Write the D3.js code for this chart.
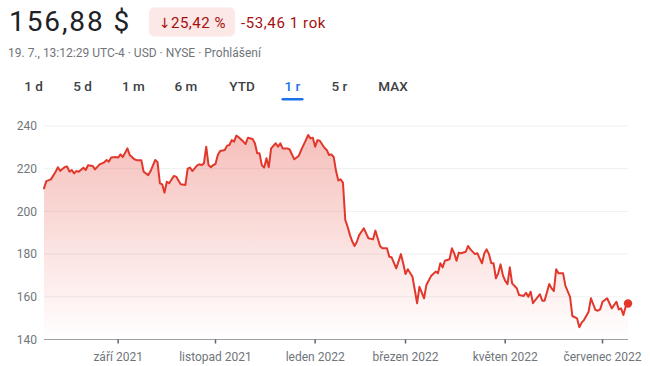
<!DOCTYPE html>
<html>
<head>
<meta charset="utf-8">
<script src="https://cdn.jsdelivr.net/npm/d3@7"></script>
<style>
  html, body { margin: 0; padding: 0; background: #fff; }
  svg { display: block; font-family: Roboto, Arial, sans-serif; }
</style>
</head>
<body>
<svg id="chart" width="650" height="366"></svg>
<script>
// Trading-session number (0 = first session of the year window) and closing price
const sessions = [0,1,3,5,6,7,9,10,11,12,13,14,15,17,18,19,21,22,24,26,27,28,29,31,32,33,34,36,37,39,40,42,43,45,46,48,49,50,51,52,53,54,56,57,59,61,62,63,64,66,67,68,69,70,71,72,73,74,75,76,78,79,80,81,82,83,84,86,87,88,90,91,92,93,94,95,96,97,98,100,101,102,103,105,106,108,110,111,113,114,115,116,117,118,119,121,122,123,124,125,126,127,128,129,130,131,132,133,134,135,136,138,139,140,142,143,144,145,146,148,149,150,152,154,155,156,157,159,160,161,162,163,164,165,167,169,170,171,172,173,175,176,177,178,179,180,182,183,184,186,187,188,189,190,191,192,193,194,195,196,197,198,199,200,201,202,204,205,207,208,209,210,211,212,214,215,216,217,218,219,220,221,222,223,224,225,227,228,230,231,232,233,235,236,238,239,240,241,243,244,245,247,248,249,250,251,252];
const closes = [210.8,214.2,215.0,218.6,220.7,219.0,220.8,221.0,218.6,219.4,217.8,218.9,218.6,220.5,219.4,221.6,221.3,219.7,222.0,223.0,224.1,223.3,225.3,225.5,225.2,226.7,225.5,229.5,226.4,224.4,224.0,224.0,218.6,217.0,218.9,224.1,223.0,213.2,212.7,208.8,213.9,213.2,216.6,216.3,212.7,212.4,220.0,220.5,218.9,221.4,222.1,221.7,222.5,230.3,221.7,220.7,221.7,222.2,226.4,228.3,228.8,230.8,231.1,233.4,232.7,235.5,234.7,232.7,231.6,234.5,233.9,231.9,227.2,227.2,221.7,220.5,224.9,220.7,229.5,231.9,230.3,231.9,229.5,229.5,229.0,224.4,226.1,228.8,233.4,235.8,234.2,234.5,230.3,233.4,233.1,229.8,228.8,226.4,226.7,225.5,219.0,214.5,215.0,213.5,196.0,192.8,189.0,186.0,183.8,185.8,188.9,192.1,189.7,187.4,186.9,191.0,187.4,183.8,182.7,182.7,178.8,178.5,173.3,180.0,175.7,170.7,172.9,169.4,163.2,157.0,164.7,162.0,159.3,165.5,169.7,171.8,171.0,175.7,173.8,176.9,177.6,182.7,180.4,176.9,180.7,180.4,181.1,183.8,182.2,180.0,180.4,178.0,175.7,180.4,182.2,180.0,175.7,175.7,168.7,171.0,175.2,170.2,167.5,165.9,173.8,166.3,164.0,160.8,160.4,161.9,160.0,162.4,157.0,158.5,161.2,158.2,158.2,162.0,166.0,164.0,162.7,172.9,171.0,171.0,171.0,165.1,160.0,151.0,149.9,145.7,147.9,149.1,153.0,159.3,153.8,153.5,154.1,157.7,159.3,157.0,154.6,157.7,154.1,154.6,151.5,155.5,156.88];

const lastSession = 252;
const tickSessions = [32, 74, 117, 156, 199, 241];
const tickLabels = ["září 2021", "listopad 2021", "leden 2022", "březen 2022", "květen 2022", "červenec 2022"];
const yTicks = [140, 160, 180, 200, 220, 240];

const priceText = "156,88 $";
const changeArrow = "↓";
const changePctText = "25,42 %";
const changeAbsText = "-53,46 1 rok";
const infoText = "19. 7., 13:12:29 UTC-4 · USD · NYSE · Prohlášení";
const tabs = ["1 d", "5 d", "1 m", "6 m", "YTD", "1 r", "5 r", "MAX"];
const activeTab = "1 r";

const RED = "#e2382c";
const svg = d3.select("#chart");

// ---- header ----
svg.append("text").attr("x", 9).attr("y", 31)
  .attr("font-size", 28).attr("letter-spacing", 1.9).attr("fill", "#202124").text(priceText);

svg.append("rect").attr("x", 149).attr("y", 7.5).attr("width", 86).attr("height", 29)
  .attr("rx", 5).attr("fill", "#fce8e6");
svg.append("text").attr("x", 159).attr("y", 27.5)
  .attr("font-family", "'DejaVu Sans', sans-serif")
  .attr("font-size", 14).attr("fill", "#a50e0e").text(changeArrow);
svg.append("text").attr("x", 171).attr("y", 27.5)
  .attr("font-size", 15).attr("letter-spacing", 0.5).attr("fill", "#a50e0e").text(changePctText);
svg.append("text").attr("x", 241).attr("y", 27.5)
  .attr("font-size", 15).attr("letter-spacing", 0.6).attr("fill", "#a50e0e").text(changeAbsText);

svg.append("text").attr("x", 8).attr("y", 56.5)
  .attr("font-size", 12).attr("fill", "#70757a").text(infoText);

// ---- range tabs ----
const tabCenters = [33.5, 82.5, 133.5, 186, 242, 292.5, 339.5, 393];
const tabG = svg.append("g");
tabG.selectAll("text").data(tabs).join("text")
  .attr("x", (d, i) => tabCenters[i]).attr("y", 91)
  .attr("text-anchor", "middle").attr("font-size", 13.5).attr("font-weight", 500)
  .attr("fill", d => d === activeTab ? "#1a73e8" : "#3c4043")
  .text(d => d);
const ai = tabs.indexOf(activeTab);
tabG.append("rect").attr("x", tabCenters[ai] - 11).attr("y", 98).attr("width", 22).attr("height", 2.5)
  .attr("rx", 1.25).attr("fill", "#1a73e8");

// ---- chart ----
const x = d3.scaleLinear().domain([0, lastSession]).range([44, 628]);
const y = d3.scaleLinear().domain([140, 240]).range([339.5, 126]);

const data = sessions.map((s, i) => ({ s, v: closes[i] }));

const defs = svg.append("defs");
const grad = defs.append("linearGradient").attr("id", "areaFill")
  .attr("gradientUnits", "userSpaceOnUse")
  .attr("x1", 0).attr("x2", 0).attr("y1", y(236)).attr("y2", y(140));
grad.append("stop").attr("offset", 0).attr("stop-color", RED).attr("stop-opacity", 0.32);
grad.append("stop").attr("offset", 1).attr("stop-color", RED).attr("stop-opacity", 0.0);

// gridlines
svg.append("g").selectAll("line").data(yTicks.filter(t => t > 140)).join("line")
  .attr("x1", 44).attr("x2", 628)
  .attr("y1", d => y(d)).attr("y2", d => y(d))
  .attr("stroke", "#eef0f1").attr("stroke-width", 1);

// y labels
svg.append("g").selectAll("text").data(yTicks).join("text")
  .attr("x", 37).attr("y", d => y(d) + 4.3).attr("text-anchor", "end")
  .attr("font-size", 12).attr("fill", "#70757a").text(d => d);

// area + line
svg.append("path").datum(data)
  .attr("fill", "url(#areaFill)")
  .attr("d", d3.area().x(d => x(d.s)).y0(y(140)).y1(d => y(d.v)));

svg.append("path").datum(data)
  .attr("fill", "none").attr("stroke", RED).attr("stroke-width", 2)
  .attr("stroke-linejoin", "round").attr("stroke-linecap", "round")
  .attr("d", d3.line().x(d => x(d.s)).y(d => y(d.v)));

// bottom axis
const xAxis = svg.append("g");
xAxis.append("line").attr("x1", 44).attr("x2", 628).attr("y1", y(140)).attr("y2", y(140))
  .attr("stroke", "#9aa0a6").attr("stroke-width", 1);
xAxis.selectAll("line.tick").data(tickSessions).join("line").attr("class", "tick")
  .attr("x1", d => x(d)).attr("x2", d => x(d))
  .attr("y1", y(140)).attr("y2", y(140) + 4)
  .attr("stroke", "#5f6368").attr("stroke-width", 1.5);
xAxis.selectAll("text").data(tickSessions).join("text")
  .attr("x", d => x(d)).attr("y", 361).attr("text-anchor", "middle")
  .attr("font-size", 12).attr("fill", "#70757a")
  .text((d, i) => tickLabels[i]);

// last price marker
const last = data[data.length - 1];
svg.append("circle").attr("cx", x(last.s)).attr("cy", y(last.v)).attr("r", 4.2).attr("fill", RED);
</script>
</body>
</html>
